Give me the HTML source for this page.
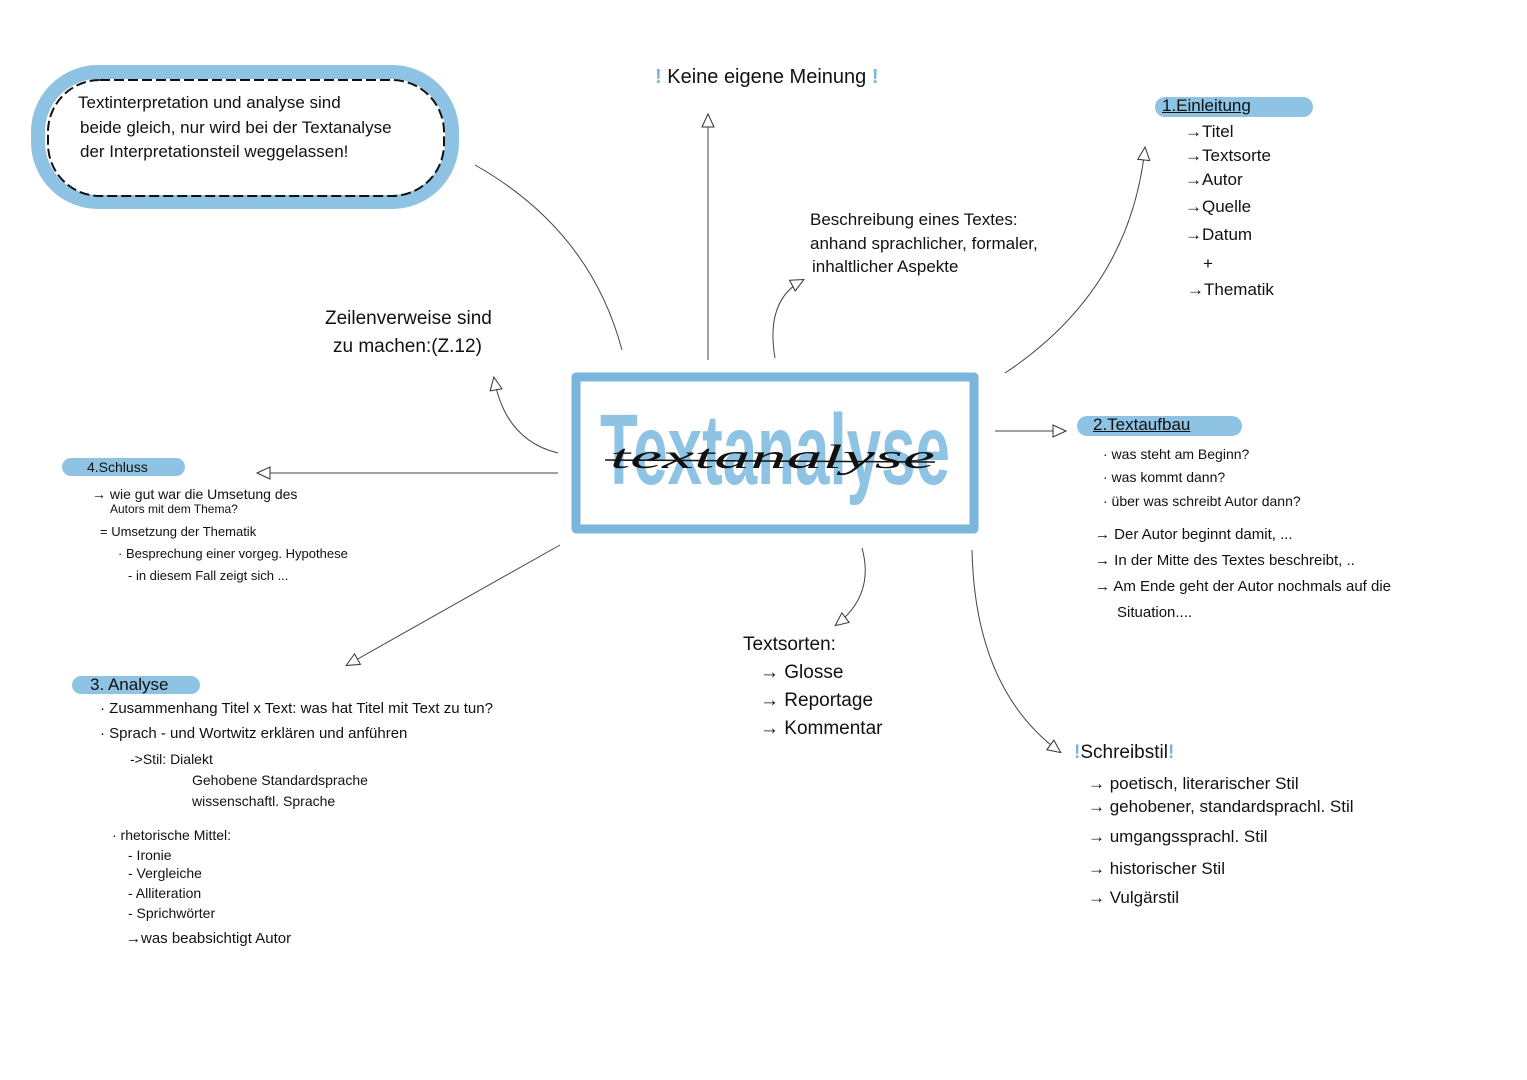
<!DOCTYPE html>
<html><head><meta charset="utf-8"><style>
html,body{margin:0;padding:0;background:#fff;}
body{width:1527px;height:1080px;position:relative;overflow:hidden;font-family:"Liberation Sans",sans-serif;color:#111;}
.t{position:absolute;white-space:nowrap;font-size:17px;}
.s{font-size:14px;}
.hl{position:absolute;background:#8ec3e4;border-radius:10px;}
</style></head><body>
<svg width="1527" height="1080" style="position:absolute;left:0;top:0">
<defs>
<marker id="a" markerWidth="16" markerHeight="16" refX="13" refY="7" orient="auto" markerUnits="userSpaceOnUse">
<path d="M1,1 L14,7 L1,13 Z" fill="#fff" stroke="#333" stroke-width="1"/></marker>
</defs>
<g fill="none" stroke="#444" stroke-width="1">
<path d="M475,165 Q590,230 622,350"/>
<path d="M708,360 L708,115" marker-end="url(#a)"/>
<path d="M558,453 Q505,440 494,378" marker-end="url(#a)"/>
<path d="M775,358 Q765,300 803,280" marker-end="url(#a)"/>
<path d="M1005,373 Q1130,290 1145,148" marker-end="url(#a)"/>
<path d="M995,431 L1065,431" marker-end="url(#a)"/>
<path d="M558,473 L258,473" marker-end="url(#a)"/>
<path d="M560,545 L347,665" marker-end="url(#a)"/>
<path d="M862,548 Q875,595 836,625" marker-end="url(#a)"/>
<path d="M972,550 Q975,690 1060,752" marker-end="url(#a)"/>
</g>
<rect x="38" y="72" width="414" height="130" rx="60" fill="none" stroke="#8ec3e4" stroke-width="14"/>
<rect x="48" y="80" width="396" height="116" rx="52" fill="none" stroke="#111" stroke-width="2" stroke-dasharray="10 4"/>
<rect x="576" y="377" width="398" height="152" fill="none" stroke="#7ab6dc" stroke-width="9" stroke-linejoin="round"/>
<text x="600" y="484" textLength="350" lengthAdjust="spacingAndGlyphs" font-family="Liberation Sans" font-weight="bold" font-size="100" fill="#8ec3e4">Textanalyse</text>
<text x="610" y="468" textLength="325" lengthAdjust="spacingAndGlyphs" font-family="Liberation Serif" font-style="italic" font-size="34" fill="#111">textanalyse</text>
<line x1="605" y1="460" x2="935" y2="462" stroke="#111" stroke-width="1.5"/>
</svg>

<div class="t" style="left:78px;top:93px">Textinterpretation und analyse sind</div>
<div class="t" style="left:80px;top:118px">beide gleich, nur wird bei der Textanalyse</div>
<div class="t" style="left:80px;top:142px">der Interpretationsteil weggelassen!</div>

<div class="t" style="left:655px;top:66px;font-size:20px"><b style="color:#7ab6dc">!</b> Keine eigene Meinung <b style="color:#7ab6dc">!</b></div>

<div class="t" style="left:325px;top:308px;font-size:19px">Zeilenverweise sind</div>
<div class="t" style="left:333px;top:336px;font-size:19px">zu machen:(Z.12)</div>

<div class="t" style="left:810px;top:210px">Beschreibung eines Textes:</div>
<div class="t" style="left:810px;top:234px">anhand sprachlicher, formaler,</div>
<div class="t" style="left:812px;top:257px">inhaltlicher Aspekte</div>

<div class="hl" style="left:1155px;top:97px;width:158px;height:20px"></div>
<div class="t" style="left:1162px;top:96px;text-decoration:underline">1.Einleitung</div>
<div class="t" style="left:1185px;top:122px">→Titel</div>
<div class="t" style="left:1185px;top:146px">→Textsorte</div>
<div class="t" style="left:1185px;top:170px">→Autor</div>
<div class="t" style="left:1185px;top:197px">→Quelle</div>
<div class="t" style="left:1185px;top:225px">→Datum</div>
<div class="t" style="left:1203px;top:254px">+</div>
<div class="t" style="left:1187px;top:280px">→Thematik</div>

<div class="hl" style="left:1077px;top:416px;width:165px;height:20px"></div>
<div class="t" style="left:1093px;top:415px;text-decoration:underline">2.Textaufbau</div>
<div class="t s" style="left:1103px;top:446px">· was steht am Beginn?</div>
<div class="t s" style="left:1103px;top:469px">· was kommt dann?</div>
<div class="t s" style="left:1103px;top:493px">· über was schreibt Autor dann?</div>
<div class="t" style="left:1095px;top:526px;font-size:15px">→ Der Autor beginnt damit, ...</div>
<div class="t" style="left:1095px;top:552px;font-size:15px">→ In der Mitte des Textes beschreibt, ..</div>
<div class="t" style="left:1095px;top:578px;font-size:15px">→ Am Ende geht der Autor nochmals auf die</div>
<div class="t" style="left:1117px;top:604px;font-size:15px">Situation....</div>

<div class="hl" style="left:62px;top:458px;width:123px;height:18px"></div>
<div class="t s" style="left:87px;top:459px">4.Schluss</div>
<div class="t s" style="left:92px;top:486px">→ wie gut war die Umsetung des</div>
<div class="t" style="left:110px;top:502px;font-size:12px">Autors mit dem Thema?</div>
<div class="t" style="left:100px;top:524px;font-size:13px">= Umsetzung der Thematik</div>
<div class="t" style="left:118px;top:546px;font-size:13px">· Besprechung einer vorgeg. Hypothese</div>
<div class="t" style="left:128px;top:568px;font-size:13px">- in diesem Fall zeigt sich ...</div>

<div class="hl" style="left:72px;top:676px;width:128px;height:18px"></div>
<div class="t" style="left:90px;top:675px">3. Analyse</div>
<div class="t" style="left:100px;top:700px;font-size:15px">· Zusammenhang Titel x Text: was hat Titel mit Text zu tun?</div>
<div class="t" style="left:100px;top:725px;font-size:15px">· Sprach - und Wortwitz erklären und anführen</div>
<div class="t" style="left:130px;top:751px;font-size:14px">-&gt;Stil: Dialekt</div>
<div class="t" style="left:192px;top:772px;font-size:14px">Gehobene Standardsprache</div>
<div class="t" style="left:192px;top:793px;font-size:14px">wissenschaftl. Sprache</div>
<div class="t" style="left:112px;top:827px;font-size:14px">· rhetorische Mittel:</div>
<div class="t" style="left:128px;top:847px;font-size:14px">- Ironie</div>
<div class="t" style="left:128px;top:865px;font-size:14px">- Vergleiche</div>
<div class="t" style="left:128px;top:885px;font-size:14px">- Alliteration</div>
<div class="t" style="left:128px;top:905px;font-size:14px">- Sprichwörter</div>
<div class="t" style="left:126px;top:930px;font-size:15px">→was beabsichtigt Autor</div>

<div class="t" style="left:743px;top:634px;font-size:19px">Textsorten:</div>
<div class="t" style="left:760px;top:662px;font-size:19px">→ Glosse</div>
<div class="t" style="left:760px;top:690px;font-size:19px">→ Reportage</div>
<div class="t" style="left:760px;top:718px;font-size:19px">→ Kommentar</div>

<div class="t" style="left:1074px;top:742px;font-size:19px"><b style="color:#7ab6dc">!</b>Schreibstil<b style="color:#7ab6dc">!</b></div>
<div class="t" style="left:1088px;top:774px">→ poetisch, literarischer Stil</div>
<div class="t" style="left:1088px;top:797px">→ gehobener, standardsprachl. Stil</div>
<div class="t" style="left:1088px;top:827px">→ umgangssprachl. Stil</div>
<div class="t" style="left:1088px;top:859px">→ historischer Stil</div>
<div class="t" style="left:1088px;top:888px">→ Vulgärstil</div>
</body></html>
